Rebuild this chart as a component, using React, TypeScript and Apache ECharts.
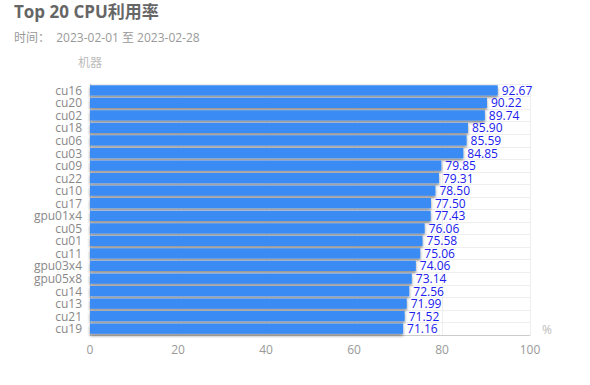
import React, { useEffect, useRef } from "react";
import * as echarts from "echarts";

const categories = ["cu16","cu20","cu02","cu18","cu06","cu03","cu09","cu22","cu10","cu17","gpu01x4","cu05","cu01","cu11","gpu03x4","gpu05x8","cu14","cu13","cu21","cu19"];
const values = [92.67,90.22,89.74,85.90,85.59,84.85,79.85,79.31,78.50,77.50,77.43,76.06,75.58,75.06,74.06,73.14,72.56,71.99,71.52,71.16];

const FONT = "'Open Sans', 'Noto Sans CJK SC', sans-serif";

export default function App() {
  const ref = useRef<HTMLDivElement>(null);
  useEffect(() => {
    const chart = echarts.init(ref.current!, null, { renderer: "svg" });
    chart.setOption({
      animation: false,
      textStyle: { fontFamily: FONT },
      title: {
        text: "Top 20 CPU利用率",
        subtext: "时间：  2023-02-01 至 2023-02-28",
        left: 14,
        top: 3,
        padding: 0,
        itemGap: 11,
        textStyle: { fontSize: 17, fontWeight: "bold", color: "#666", fontFamily: FONT },
        subtextStyle: { fontSize: 12, color: "#999", fontFamily: FONT },
      },
      grid: { left: 90, right: 60, top: 84, bottom: 50 },
      xAxis: {
        type: "value",
        min: 0,
        max: 100,
        interval: 20,
        name: "%",
        nameGap: 12,
        nameTextStyle: { color: "#bbb", fontSize: 12, verticalAlign: "top", padding: [-12, 0, 0, 0] },
        axisLine: { show: true, lineStyle: { color: "#ccc" } },
        axisTick: { show: false },
        axisLabel: { color: "#999", fontSize: 12, margin: 8 },
        splitLine: { show: true, lineStyle: { color: "#eee" } },
      },
      yAxis: {
        type: "category",
        inverse: true,
        data: categories,
        name: "机器",
        nameLocation: "start",
        nameGap: 16,
        nameTextStyle: { color: "#bbb", fontSize: 12, align: "center" },
        axisLine: { show: true, lineStyle: { color: "#ccc" } },
        axisTick: { show: false },
        axisLabel: { color: "#888", fontSize: 12, margin: 8, lineHeight: 12, interval: 0 },
        splitLine: { show: true, lineStyle: { color: "#eee" } },
      },
      series: [
        {
          type: "bar",
          data: values,
          barCategoryGap: "18%",
          itemStyle: {
            color: "#3a8bf5",
            shadowColor: "rgba(0,0,0,0.45)",
            shadowBlur: 3,
            shadowOffsetY: 2,
          },
          label: {
            show: true,
            position: "right",
            distance: 4,
            color: "#2020ee",
            fontSize: 12,
            lineHeight: 12,
            formatter: (p: any) => p.value.toFixed(2),
          },
          labelLayout: { hideOverlap: false },
        },
      ],
    });
    return () => chart.dispose();
  }, []);
  return <div ref={ref} style={{ position: "absolute", left: 0, top: 0, width: 590, height: 385 }} />;
}
